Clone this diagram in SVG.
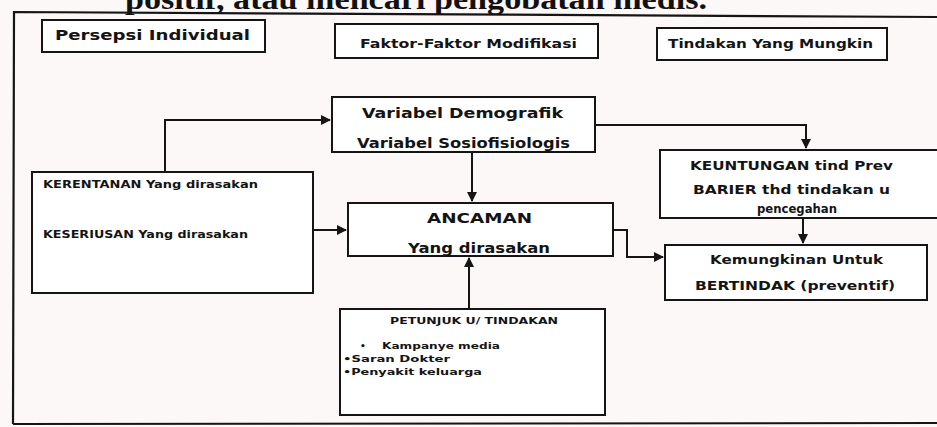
<svg xmlns="http://www.w3.org/2000/svg" width="937" height="427" viewBox="0 0 937 427">
<style>
.bx{fill:#fff;stroke:#151515;stroke-width:2}
.t{font-family:"DejaVu Sans",sans-serif;font-weight:bold;fill:#141414}
.c{fill:none;stroke:#151515;stroke-width:2}
.top{font-family:"Liberation Serif",serif;font-weight:bold;fill:#111;font-size:30px}
</style>
<defs>
<marker id="ah" viewBox="0 0 10 10" refX="9" refY="5" markerWidth="5" markerHeight="5" orient="auto" markerUnits="strokeWidth">
<path d="M0,0 L10,5 L0,10 z" fill="#151515"/>
</marker>
</defs>
<rect width="937" height="427" fill="#fbf8f7"/>
<text class="top" x="125" y="9" textLength="582" lengthAdjust="spacingAndGlyphs">positif, atau mencari pengobatan medis.</text>
<path d="M13,424 L14,12 L937,17" fill="none" stroke="#151515" stroke-width="2.2"/>
<path d="M13,424 L937,423" fill="none" stroke="#151515" stroke-width="2"/>

<g id="persepsi"><rect class="bx" x="42" y="20" width="223" height="32"/><text class="t" x="55" y="40" font-size="14" textLength="195" lengthAdjust="spacingAndGlyphs">Persepsi Individual</text></g>
<g id="faktor"><rect class="bx" x="335" y="24" width="263" height="34"/><text class="t" x="360" y="48" font-size="12" textLength="217" lengthAdjust="spacingAndGlyphs">Faktor-Faktor Modifikasi</text></g>
<g id="tindakan"><rect class="bx" x="657" y="28" width="230" height="32"/><text class="t" x="668" y="48" font-size="12" textLength="205" lengthAdjust="spacingAndGlyphs">Tindakan Yang Mungkin</text></g>

<g id="variabel"><rect class="bx" x="332" y="97" width="263" height="55"/>
<text class="t" x="362" y="118" font-size="14" textLength="201" lengthAdjust="spacingAndGlyphs">Variabel  Demografik</text>
<text class="t" x="357" y="148" font-size="14" textLength="213" lengthAdjust="spacingAndGlyphs">Variabel Sosiofisiologis</text></g>

<g id="kerentanan"><rect class="bx" x="32" y="172" width="281" height="121"/>
<text class="t" x="43" y="188" font-size="10" textLength="215" lengthAdjust="spacingAndGlyphs">KERENTANAN Yang dirasakan</text>
<text class="t" x="43" y="238" font-size="10" textLength="205" lengthAdjust="spacingAndGlyphs">KESERIUSAN Yang dirasakan</text></g>

<g id="ancaman"><rect class="bx" x="348" y="203" width="265" height="53"/>
<text class="t" x="427" y="223" font-size="14" textLength="105" lengthAdjust="spacingAndGlyphs">ANCAMAN</text>
<text class="t" x="408" y="253" font-size="14" textLength="142" lengthAdjust="spacingAndGlyphs">Yang dirasakan</text></g>

<g id="keuntungan"><rect class="bx" x="660" y="150" width="290" height="68"/>
<text class="t" x="690" y="170" font-size="12" textLength="203" lengthAdjust="spacingAndGlyphs">KEUNTUNGAN tind  Prev</text>
<text class="t" x="693" y="194" font-size="12" textLength="197" lengthAdjust="spacingAndGlyphs">BARIER thd tindakan u</text>
<text class="t" x="757" y="213" font-size="12" textLength="80" lengthAdjust="spacingAndGlyphs">pencegahan</text></g>

<g id="kemungkinan"><rect class="bx" x="665" y="245" width="262" height="55"/>
<text class="t" x="710" y="264" font-size="12" textLength="173" lengthAdjust="spacingAndGlyphs">Kemungkinan Untuk</text>
<text class="t" x="695" y="290" font-size="12" textLength="200" lengthAdjust="spacingAndGlyphs">BERTINDAK (preventif)</text></g>

<g id="petunjuk"><rect class="bx" x="340" y="309" width="265" height="106"/>
<text class="t" x="390" y="324" font-size="9" textLength="168" lengthAdjust="spacingAndGlyphs">PETUNJUK U/ TINDAKAN</text>
<text class="t" x="360" y="349" font-size="9">•</text>
<text class="t" x="382" y="349" font-size="9" textLength="118" lengthAdjust="spacingAndGlyphs">Kampanye media</text>
<text class="t" x="343" y="362" font-size="9" textLength="107" lengthAdjust="spacingAndGlyphs">•Saran Dokter</text>
<text class="t" x="343" y="375" font-size="9" textLength="139" lengthAdjust="spacingAndGlyphs">•Penyakit keluarga</text></g>

<g id="connectors">
<path class="c" d="M165,172 V120 H330" marker-end="url(#ah)"/>
<path class="c" d="M313,230 H346" marker-end="url(#ah)"/>
<path class="c" d="M472,152 V201" marker-end="url(#ah)"/>
<path class="c" d="M595,125 H806 V148" marker-end="url(#ah)"/>
<path class="c" d="M803,218 V243" marker-end="url(#ah)"/>
<path class="c" d="M613,230 H627 V257 H663" marker-end="url(#ah)"/>
<path class="c" d="M469,309 V258" marker-end="url(#ah)"/>
</g>
</svg>
